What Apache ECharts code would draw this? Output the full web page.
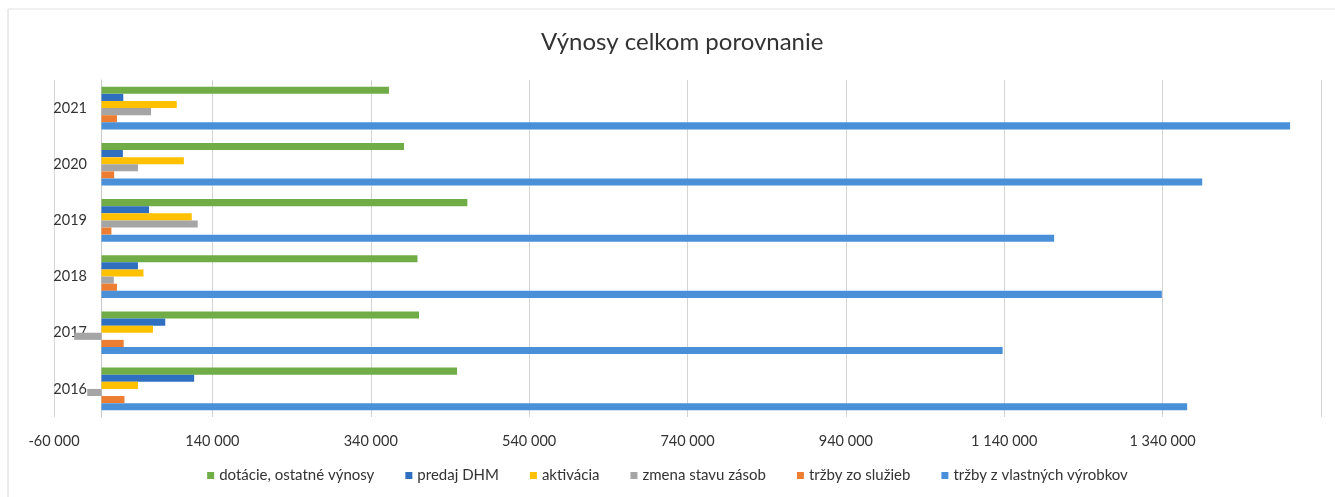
<!DOCTYPE html>
<html>
<head>
<meta charset="utf-8">
<script src="https://cdn.jsdelivr.net/npm/echarts@6/dist/echarts.min.js"></script>
<style>
  html, body { margin: 0; padding: 0; background: #fff; }
  #chart { width: 1335px; height: 497px; }
</style>
</head>
<body>
<div id="chart"></div>
<script>
// years, bottom to top
const years = ['2016', '2017', '2018', '2019', '2020', '2021']

const seriesNames = [
  'dotácie, ostatné výnosy',
  'predaj DHM',
  'aktivácia',
  'zmena stavu zásob',
  'tržby zo služieb',
  'tržby z vlastných výrobkov'
]

const dotacie = [449000, 401000, 399000, 462000, 382000, 363000]
const predajDHM = [117000, 80500, 46000, 60000, 27000, 27500]
const aktivacia = [46000, 65000, 53000, 114000, 104000, 95000]
const zmenaZasob = [-18000, -34500, 15500, 121500, 46000, 62500]
const trzbySluzby = [29000, 28000, 19500, 12500, 16000, 19500]
const trzbyVyrobky = [1371000, 1138000, 1339000, 1203000, 1390000, 1501000]

const xTicks = { min: -60000, max: 1540000, interval: 200000 }

const colors = ['#70ad47', '#2e6fc0', '#ffc000', '#a5a5a5', '#ed7d31', '#4a90d9']
const values = [dotacie, predajDHM, aktivacia, zmenaZasob, trzbySluzby, trzbyVyrobky]

const fmt = v => {
  const s = String(Math.abs(v)).replace(/\B(?=(\d{3})+(?!\d))/g, ' ')
  return (v < 0 ? '-' : '') + s
}

const chart = echarts.init(document.getElementById('chart'))

const option = {
  backgroundColor: '#fff',
  textStyle: { fontFamily: 'Lato' },
  title: {
    text: 'Výnosy celkom porovnanie',
    left: 536,
    top: 25,
    textStyle: { fontFamily: 'Lato', fontSize: 24, fontWeight: 'normal', color: '#333' }
  },
  legend: {
    data: seriesNames,
    bottom: 9,
    left: 'center',
    icon: 'rect',
    itemWidth: 7,
    itemHeight: 7,
    itemGap: 31,
    textStyle: { fontFamily: 'Lato', fontSize: 15, color: '#333' }
  },
  grid: { left: 54, right: 14, top: 80, bottom: 80 },
  xAxis: {
    type: 'value',
    min: xTicks.min,
    max: xTicks.max,
    interval: xTicks.interval,
    axisLine: { show: false },
    axisTick: { show: false },
    axisLabel: {
      formatter: fmt,
      showMaxLabel: false,
      margin: 17,
      fontFamily: 'Lato',
      fontSize: 14.5,
      color: '#333'
    },
    splitLine: { show: true, lineStyle: { color: '#d4d4d4' } }
  },
  yAxis: {
    type: 'category',
    data: years,
    axisLine: { show: true, onZero: true, lineStyle: { color: '#c8c8c8' } },
    axisTick: { show: false },
    // labels sit next to the zero line, not the grid edge
    axisLabel: { margin: -33, fontFamily: 'Lato', fontSize: 14.5, color: '#333' }
  },
  graphic: [
    { type: 'line', shape: { x1: 8, y1: 9, x2: 1335, y2: 9 }, style: { stroke: '#e2e2e2', lineWidth: 1 } },
    { type: 'line', shape: { x1: 8, y1: 9, x2: 8, y2: 497 }, style: { stroke: '#d8d8d8', lineWidth: 1 } }
  ],
  series: seriesNames.map((name, i) => ({
    name,
    type: 'bar',
    data: values[i],
    barGap: '0%',
    barCategoryGap: '24%',
    itemStyle: { color: colors[i] }
  }))
}

chart.setOption(option)
</script>
</body>
</html>
